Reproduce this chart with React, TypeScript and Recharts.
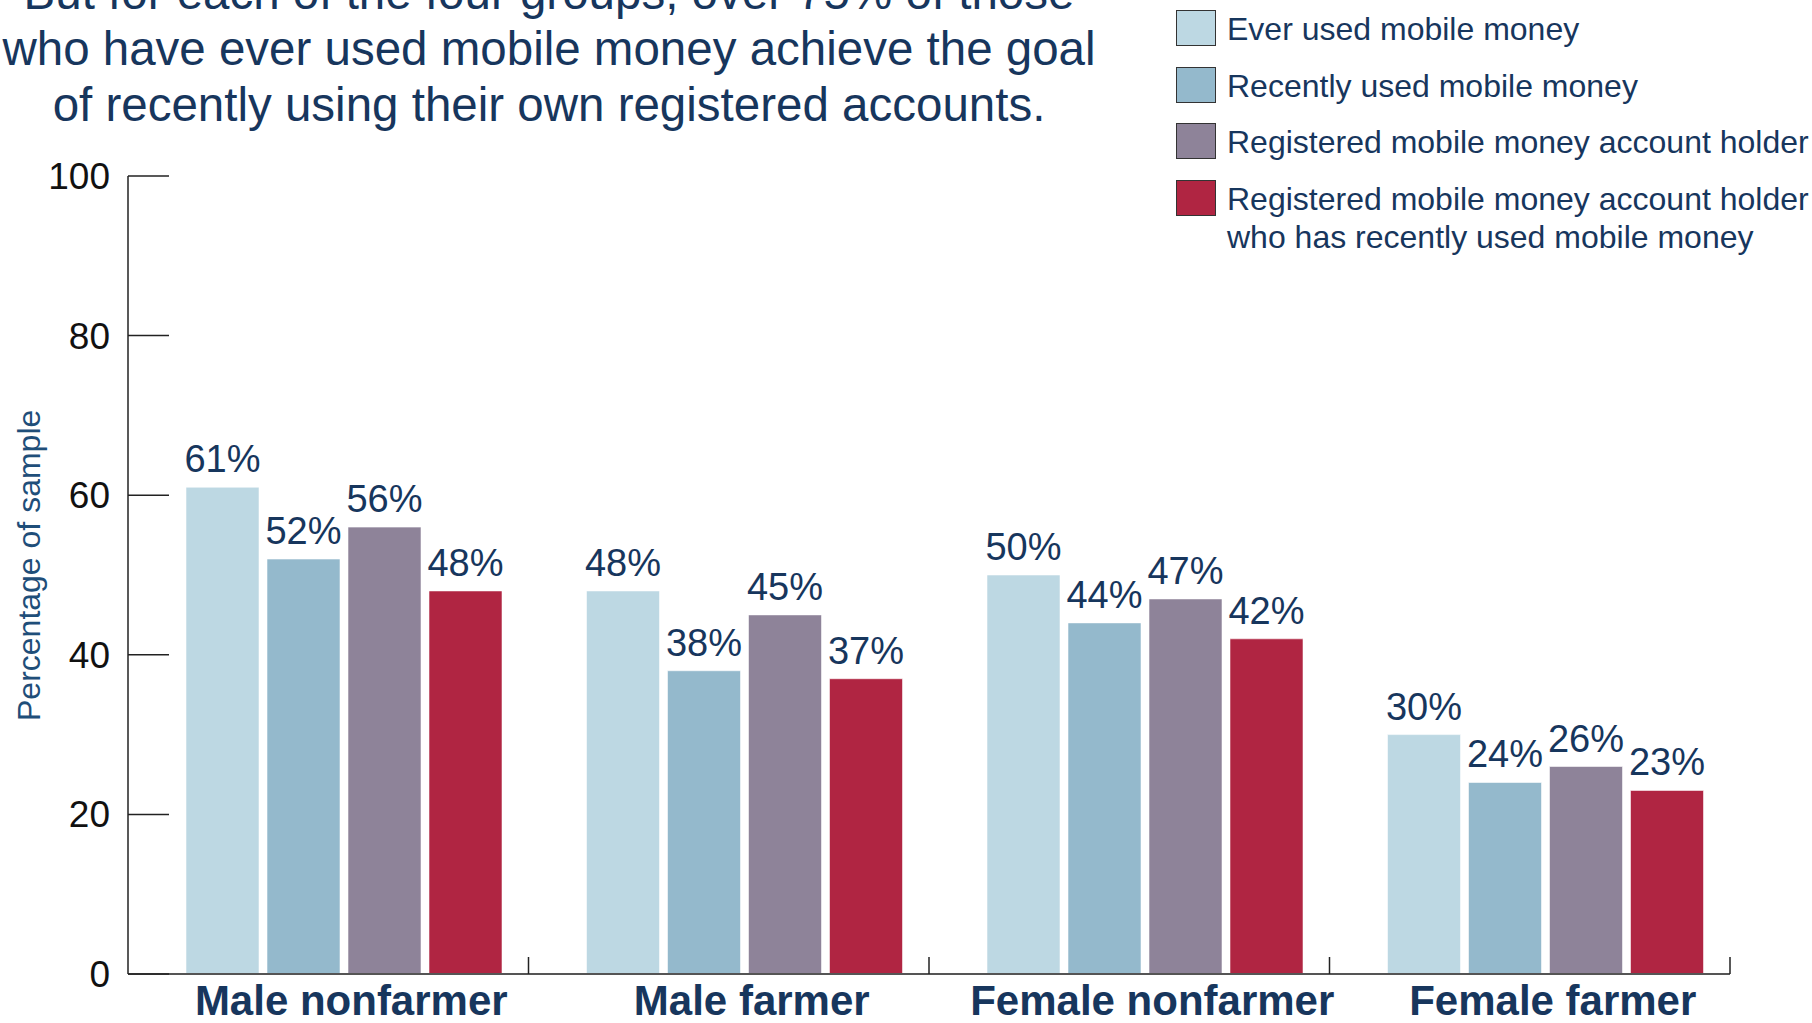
import { BarChart, Bar, XAxis, YAxis, LabelList, Legend } from "recharts";

const categories = ["Male nonfarmer", "Male farmer", "Female nonfarmer", "Female farmer"];
const everUsed = [61, 48, 50, 30];
const recentlyUsed = [52, 38, 44, 24];
const registered = [56, 45, 47, 26];
const registeredRecent = [48, 37, 42, 23];

const seriesNames = [
  "Ever used mobile money",
  "Recently used mobile money",
  "Registered mobile money account holder",
  "Registered mobile money account holder\nwho has recently used mobile money",
];
const yTicks = [0, 20, 40, 60, 80, 100];
const titleLines = [
  "But for each of the four groups, over 75% of those",
  "who have ever used mobile money achieve the goal",
  "of recently using their own registered accounts.",
];

const data = categories.map((name, i) => ({
  name,
  everUsed: everUsed[i],
  recentlyUsed: recentlyUsed[i],
  registered: registered[i],
  registeredRecent: registeredRecent[i],
}));

const NAVY = "#17365d";
const FONT = "'Liberation Sans', Arial, sans-serif";
const colors = ["#bdd8e3", "#94b9cc", "#8e8399", "#b02542"];
const keys = ["everUsed", "recentlyUsed", "registered", "registeredRecent"];
const PAD_LEFT = 15;

const YTick = (props: any) => {
  const { x, y, payload } = props;
  return (
    <g>
      <line x1={x + 18} x2={x + 59} y1={y} y2={y} stroke="#222" strokeWidth={1.5} />
      <text x={x} y={y} dy={13} textAnchor="end" fontSize={37} fill="#111" fontFamily={FONT}>
        {payload.value}
      </text>
    </g>
  );
};

// category label plus the separator tick at the right edge of each band
const CatTick = (props: any) => {
  const { x, y, payload } = props;
  const sepX = x + (payload.offset || 0) - PAD_LEFT;
  return (
    <g>
      <line x1={sepX} x2={sepX} y1={y} y2={y - 17} stroke="#222" strokeWidth={1.5} />
      <text
        x={x + 8}
        y={y + 41}
        textAnchor="middle"
        fontSize={42}
        fontWeight="bold"
        fill={NAVY}
        fontFamily={FONT}
      >
        {payload.value}
      </text>
    </g>
  );
};

const LegendBox = (props: any) => {
  const { payload } = props;
  return (
    <div style={{ fontFamily: FONT, color: NAVY }}>
      {(payload || []).map((p: any, i: number) => (
        <div key={i} style={{ display: "flex", alignItems: "flex-start", height: 56.6 }}>
          <div
            style={{
              width: 38,
              height: 34,
              background: p.color,
              border: "1.5px solid #333",
              marginRight: 11,
              flexShrink: 0,
            }}
          />
          <div style={{ fontSize: 32, lineHeight: "38px", whiteSpace: "pre", marginTop: 0 }}>{p.value}</div>
        </div>
      ))}
    </div>
  );
};

export default function App() {
  return (
    <div style={{ position: "absolute", left: 0, top: 0, width: 1812, height: 1023, overflow: "hidden", background: "#fff" }}>
      <div
        style={{
          position: "absolute",
          left: -200,
          top: -35,
          width: 1498,
          textAlign: "center",
          whiteSpace: "nowrap",
          fontFamily: FONT,
          fontSize: 47.5,
          lineHeight: "56px",
          color: NAVY,
        }}
      >
        {titleLines.map((t, i) => (
          <div key={i}>{t}</div>
        ))}
      </div>
      <BarChart
        width={1812}
        height={1023}
        data={data}
        margin={{ top: 176, right: 82, bottom: 0, left: 0 }}
        barCategoryGap={43}
        barGap={8}
      >
        <XAxis
          dataKey="name"
          height={49}
          padding={{ left: PAD_LEFT, right: -PAD_LEFT }}
          axisLine={{ stroke: "#555", strokeWidth: 2 }}
          tickLine={false}
          tickSize={0}
          tickMargin={0}
          tick={<CatTick />}
          interval={0}
        />
        <YAxis
          width={128}
          domain={[0, 100]}
          ticks={yTicks}
          interval={0}
          tickSize={0}
          tickMargin={18}
          tickLine={false}
          axisLine={{ stroke: "#222", strokeWidth: 1.5 }}
          tick={<YTick />}
          label={{
            value: "Percentage of sample",
            angle: -90,
            position: "insideLeft",
            dx: 24,
            dy: 146,
            style: { fontSize: 32, fill: "#1f4e79", fontFamily: FONT },
          }}
        />
        <Legend
          layout="vertical"
          align="center"
          verticalAlign="middle"
          content={<LegendBox />}
          wrapperStyle={{ left: 1176, top: 10, width: 636, bottom: "auto" }}
        />
        {keys.map((k, i) => (
          <Bar
            key={k}
            dataKey={k}
            name={seriesNames[i]}
            fill={colors[i]}
            stroke="rgba(255,255,255,0.55)"
            strokeWidth={1}
            isAnimationActive={false}
          >
            <LabelList
              dataKey={k}
              position="top"
              offset={15}
              formatter={(v: any) => `${v}%`}
              style={{ fontSize: 38, fill: NAVY, fontFamily: FONT }}
            />
          </Bar>
        ))}
      </BarChart>
    </div>
  );
}
